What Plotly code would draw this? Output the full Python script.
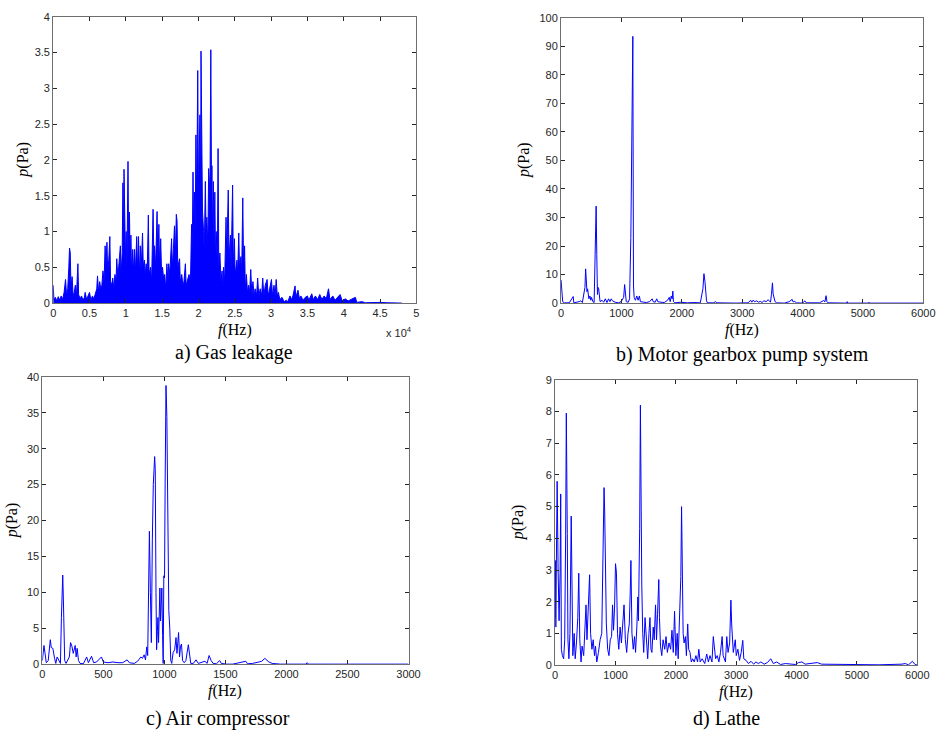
import plotly.graph_objects as go

# ---------------- spectra (frequency in Hz, amplitude in Pa) ----------------
# a) Gas leakage
gas_freq = [0, 100, 300, 500, 700, 900, 1100, 1300, 1500, 1700, 1850, 2000, 2150, 2250, 2350, 2450,
            2600, 2750, 2900, 3050, 3200, 3400, 3500, 3700, 3900, 4100, 4300, 4400, 4600, 4800, 5000,
            5200, 5400, 5600, 5800, 6000, 6100, 6250, 6400, 6550, 6700, 6850, 7000, 7150, 7250, 7400,
            7500, 7650, 7800, 7900, 8050, 8200, 8350, 8500, 8650, 8750, 8900, 9050, 9250, 9350, 9500,
            9600, 9700, 9750, 9850, 9950, 10050, 10150, 10300, 10400, 10500, 10600, 10700, 10800,
            10950, 11050, 11200, 11300, 11500, 11600, 11750, 11850, 12000, 12100, 12300, 12400, 12550,
            12650, 12800, 12950, 13100, 13200, 13400, 13550, 13750, 13850, 13950, 14100, 14300, 14400,
            14550, 14650, 14800, 14950, 15050, 15200, 15350, 15500, 15650, 15800, 15900, 16050, 16300,
            16400, 16550, 16700, 16800, 16950, 17050, 17150, 17400, 17500, 17700, 17850, 18000, 18200,
            18300, 18500, 18700, 18900, 19050, 19150, 19250, 19350, 19450, 19550, 19650, 19750, 19800,
            19900, 20000, 20100, 20200, 20300, 20350, 20450, 20550, 20700, 20800, 20950, 21050, 21150,
            21300, 21400, 21500, 21550, 21600, 21700, 21800, 21850, 21950, 22050, 22150, 22250, 22350,
            22450, 22600, 22700, 22800, 22950, 23100, 23250, 23350, 23450, 23600, 23800, 23900, 24100,
            24200, 24400, 24500, 24700, 24800, 24950, 25050, 25300, 25400, 25550, 25650, 25850, 25950,
            26100, 26200, 26350, 26450, 26600, 26750, 26900, 27050, 27200, 27350, 27500, 27650, 27800,
            28000, 28150, 28300, 28500, 28700, 28850, 29000, 29200, 29450, 29600, 29800, 30050, 30200,
            30400, 30550, 30700, 30850, 31000, 31200, 31500, 31800, 32100, 32300, 32600, 32800, 33000,
            33300, 33400, 33700, 33900, 34100, 34400, 34700, 35000, 35200, 35600, 35800, 36100, 36400,
            36700, 37000, 37300, 37600, 37900, 38100, 38500, 38800, 39200, 39500, 39800, 40200, 40600,
            41000, 41600, 41800, 42500, 43000, 44000, 45000, 46000, 47000, 48000]
gas_p = [0.25, 0.05, 0.08, 0.03, 0.09, 0.04, 0.1, 0.05, 0.15, 0.33, 0.1, 0.2, 0.5, 0.77, 0.7, 0.2,
         0.37, 0.1, 0.15, 0.25, 0.1, 0.55, 0.12, 0.06, 0.1, 0.04, 0.08, 0.15, 0.05, 0.1, 0.15,
         0.04, 0.1, 0.06, 0.12, 0.2, 0.38, 0.15, 0.3, 0.2, 0.25, 0.45, 0.3, 0.8, 0.5, 0.85,
         0.45, 0.6, 0.93, 0.3, 0.25, 0.35, 0.2, 0.4, 0.3, 0.62, 0.35, 0.5, 0.8, 0.4, 0.7,
         1.68, 0.8, 1.87, 1.3, 0.6, 1.0, 0.5, 1.98, 0.6, 1.27, 0.5, 0.95, 0.4,
         0.75, 0.45, 0.75, 0.4, 0.93, 0.45, 0.93, 0.4, 0.8, 0.45, 0.98, 0.5, 0.6,
         0.4, 0.55, 0.45, 1.23, 0.4, 0.5, 0.3, 1.31, 0.7, 0.8, 0.5, 1.28, 0.6,
         1.1, 0.5, 0.9, 0.3, 0.5, 0.35, 0.4, 0.2, 0.55, 0.3, 0.55, 0.4, 0.9,
         0.5, 0.75, 1.08, 0.6, 1.24, 1.15, 0.5, 0.62, 0.3, 0.4, 0.25, 0.3, 0.55,
         0.25, 0.35, 0.4, 0.3, 1.1, 0.7, 1.83, 0.9, 1.55, 1.0, 2.35, 1.3, 2.83,
         3.25, 1.5, 2.0, 2.63, 1.4, 3.52, 2.4, 1.3, 1.0, 0.7, 1.7, 0.9, 1.2,
         0.8, 1.88, 1.7, 1.0, 3.2, 3.54, 1.5, 1.92, 0.9, 1.7, 0.8, 1.55, 0.6,
         1.0, 0.5, 2.16, 0.5, 0.7, 0.3, 0.45, 0.2, 0.5, 0.3, 1.2, 0.6, 1.58,
         0.6, 0.95, 0.5, 1.65, 0.5, 0.9, 0.4, 0.6, 0.4, 0.98, 0.5, 0.65, 0.4,
         1.47, 0.6, 0.8, 0.2, 0.4, 0.15, 0.25, 0.15, 0.47, 0.1, 0.3, 0.1, 0.2,
         0.1, 0.35, 0.1, 0.2, 0.1, 0.35, 0.1, 0.25, 0.33, 0.1, 0.2, 0.33, 0.1,
         0.25, 0.1, 0.33, 0.1, 0.15, 0.05, 0.08, 0.02, 0.04, 0.02, 0.1, 0.05, 0.1,
         0.24, 0.08, 0.18, 0.06, 0.1, 0.04, 0.08, 0.1, 0.04, 0.13, 0.05, 0.1, 0.05,
         0.12, 0.05, 0.1, 0.06, 0.2, 0.05, 0.1, 0.04, 0.08, 0.12, 0.03, 0.06, 0.03,
         0.05, 0.08, 0.01, 0.02, 0.005, 0.01, 0.01, 0.005, 0.005, 0.0]

# b) Motor gearbox pump system
pump_freq = [0, 11, 27, 54, 136, 201, 212, 299, 326, 353, 396, 407, 418, 429, 440, 450, 461, 478, 494,
             505, 527, 548, 565, 581, 592, 603, 613, 624, 635, 646, 679, 706, 733, 760, 787, 809, 831,
             853, 896, 950, 994, 1037, 1053, 1064, 1080, 1113, 1135, 1156, 1178, 1189, 1200, 1211,
             1232, 1254, 1276, 1298, 1314, 1357, 1412, 1466, 1510, 1526, 1558, 1585, 1602, 1656, 1710,
             1765, 1792, 1808, 1825, 1841, 1852, 1862, 1884, 1982, 2090, 2199, 2307, 2350, 2367, 2384,
             2395, 2410, 2425, 2525, 2563, 2580, 2900, 3100, 3140, 3160, 3180, 3210, 3240, 3270, 3300,
             3330, 3360, 3400, 3430, 3470, 3485, 3502, 3513, 3530, 3545, 3570, 3700, 3780, 3828, 3845,
             3870, 3900, 4000, 4040, 4060, 4280, 4320, 4350, 4370, 4390, 4405, 4420, 4730, 4740, 4750,
             5090, 5100, 5110, 6000]
pump_p = [8.1, 5.0, 0.5, 0.1, 0.1, 2.3, 0.1, 0.5, 0.8, 0.2, 5.5, 12.0, 6.5, 4.0, 5.0, 2.5, 1.5, 2.5, 1.0,
          2.0, 0.5, 0.2, 17.2, 34.0, 17.0, 3.0, 5.5, 5.0, 3.5, 0.5, 1.0, 0.3, 1.5, 0.2, 1.5, 0.5, 1.5,
          0.8, 0.3, 0.1, 0.5, 2.0, 6.5, 2.0, 0.5, 0.3, 1.5, 23.0, 66.5, 93.5, 6.0, 2.0,
          1.0, 2.5, 1.0, 2.5, 0.5, 0.3, 0.2, 0.5, 1.5, 0.5, 0.3, 1.5, 0.5, 0.3, 0.2,
          1.0, 2.0, 0.5, 2.5, 1.5, 4.2, 0.5, 0.1, 0.3, 0.1, 0.2, 0.1, 5.0, 10.3, 7.5,
          3.0, 0.8, 0.1, 0.1, 0.5, 0.1, 0.0, 0.1, 1.0, 0.3, 1.0, 0.5, 0.8, 0.3, 0.6,
          0.2, 0.8, 0.5, 1.2, 0.3, 3.0, 7.1, 3.2, 1.5, 0.5, 0.1, 0.0, 0.5, 1.3, 0.4,
          0.6, 0.1, 0.0, 0.8, 0.1, 0.1, 0.6, 0.9, 0.4, 2.6, 0.5, 0.1, 0.0, 0.5, 0.0,
          0.0, 0.3, 0.0, 0.0]

# c) Air compressor
comp_freq = [0, 13, 22, 32, 48, 65, 73, 86, 100, 110, 121, 135, 148, 156, 167, 172, 178, 183, 194, 210,
             221, 231, 242, 253, 261, 269, 277, 285, 296, 309, 336, 363, 377, 403, 420, 444, 484, 500,
             538, 578, 619, 659, 694, 713, 753, 780, 794, 807, 820, 834, 845, 855, 863, 869, 877, 885,
             893, 901, 909, 920, 925, 931, 936, 942, 947, 952, 958, 963, 968, 974, 979, 985, 990, 995,
             1001, 1006, 1013, 1020, 1025, 1030, 1036, 1044, 1052, 1060, 1071, 1084, 1095, 1103, 1111,
             1116, 1124, 1132, 1140, 1149, 1162, 1176, 1196, 1205, 1216, 1237, 1259, 1278, 1305, 1332,
             1350, 1366, 1383, 1399, 1426, 1453, 1466, 1506, 1560, 1667, 1681, 1722, 1775, 1797, 1823,
             1840, 1856, 1883, 1910, 1950, 2160, 2170, 2180, 3000]
comp_p = [0.5, 2.6, 1.5, 0.2, 0.5, 3.4, 2.3, 2.2, 0.8, 0.1, 1.0, 0.5, 0.1, 6.5, 12.4, 9.2, 3.2, 0.5, 0.1, 0.6,
          1.0, 3.0, 2.5, 1.5, 2.0, 2.6, 1.0, 2.2, 0.5, 0.1, 0.05, 1.0, 0.2, 1.1, 0.2, 0.3, 1.0, 0.3,
          0.2, 0.3, 0.2, 0.2, 0.6, 0.2, 0.1, 0.4, 0.7, 1.0, 0.8, 1.3, 0.6, 2.4, 1.2, 13.8, 18.5, 10.0,
          3.0, 17.3, 25.0, 28.9, 27.1, 10.0, 2.0, 4.5, 6.5, 3.0, 8.0, 10.6, 6.0, 8.5, 10.6, 4.0, 0.1, 12.3,
          12.0, 25.2, 38.8, 34.5, 23.0, 8.0, 7.5, 5.0, 0.5, 0.1, 1.6, 2.0, 3.7, 1.5, 3.2,
          4.4, 1.0, 2.5, 2.8, 0.5, 0.2, 0.5, 2.7, 1.3, 0.1, 0.1, 0.6, 0.1, 0.3, 0.4,
          0.1, 1.2, 0.5, 0.1, 0.05, 0.5, 0.1, 0.0, 0.0, 0.4, 0.05, 0.1, 0.3, 0.4, 0.8,
          0.5, 0.3, 0.1, 0.05, 0.0, 0.0, 0.2, 0.0, 0.0]

# d) Lathe
lathe_freq = [0, 5, 11, 22, 33, 49, 65, 82, 92, 103, 120, 141, 158, 174, 185, 201, 212, 228, 245, 266,
              277, 293, 315, 332, 353, 375, 391, 408, 429, 446, 473, 489, 511, 527, 544, 560, 571, 587,
              609, 630, 652, 668, 690, 717, 745, 772, 793, 810, 821, 832, 848, 870, 891, 913, 935, 951,
              967, 984, 1000, 1016, 1033, 1054, 1076, 1098, 1120, 1141, 1163, 1185, 1207, 1228, 1245,
              1255, 1272, 1294, 1315, 1332, 1353, 1370, 1380, 1400, 1412, 1422, 1435, 1451, 1467, 1489,
              1511, 1533, 1554, 1571, 1587, 1603, 1625, 1641, 1663, 1679, 1696, 1717, 1728, 1745, 1766,
              1788, 1815, 1837, 1859, 1886, 1913, 1935, 1957, 1978, 2000, 2022, 2038, 2065, 2082, 2094,
              2103, 2120, 2136, 2158, 2174, 2196, 2212, 2234, 2255, 2277, 2304, 2332, 2359, 2380, 2402,
              2435, 2478, 2511, 2538, 2565, 2598, 2620, 2636, 2658, 2685, 2712, 2739, 2766, 2783, 2821,
              2843, 2864, 2891, 2911, 2924, 2951, 2984, 3000, 3027, 3054, 3082, 3108, 3125, 3163, 3201,
              3245, 3288, 3326, 3365, 3408, 3462, 3516, 3571, 3614, 3669, 3734, 3815, 3978, 4032, 4087,
              4141, 4277, 4342, 4413, 4657, 4983, 5364, 5745, 5799, 5853, 5918, 5962, 6000]
lathe_p = [1.5, 3.3, 1.2, 3.6, 5.8, 3.0, 1.4, 2.9, 5.4, 0.5, 0.3, 0.2, 0.8, 4.1, 7.95, 4.15, 0.8, 0.2, 1.0, 4.7,
           2.8, 0.3, 1.0, 0.2, 0.7, 1.5, 2.9, 0.8, 0.1, 0.6, 0.3, 1.0, 1.9, 0.8, 1.6, 2.3, 2.85, 1.0,
           0.5, 0.8, 0.3, 0.6, 0.1, 0.4, 0.8, 1.0, 2.95, 5.6, 4.8, 3.5, 1.3, 0.5, 0.3, 0.8, 0.9, 1.9,
           1.1, 1.8, 3.2, 2.9, 1.0, 0.5, 1.2, 0.7, 1.4, 1.9, 0.8, 0.4, 1.0, 1.3, 2.4,
           3.3, 1.0, 0.5, 0.9, 0.4, 1.2, 2.15, 1.4, 4.3, 8.2, 4.2, 2.5, 1.0, 0.4, 1.5,
           0.6, 0.2, 1.0, 1.5, 0.5, 0.4, 1.2, 0.8, 1.9, 0.8, 1.6, 2.7, 1.5, 0.6, 0.3,
           0.8, 0.5, 0.9, 0.4, 0.7, 0.5, 1.1, 0.4, 1.7, 0.3, 1.0, 0.2, 1.5, 2.8, 5.0,
           2.6, 1.0, 0.7, 0.9, 0.3, 1.3, 0.5, 0.4, 0.1, 0.2, 0.1, 0.3, 0.1, 0.5, 0.1,
           0.2, 0.05, 0.35, 0.1, 0.3, 0.1, 0.9, 0.6, 0.2, 0.3, 0.1, 0.4, 0.9, 0.3, 0.1,
           0.9, 0.4, 0.7, 2.05, 1.3, 0.4, 0.8, 0.3, 0.5, 0.15, 0.4, 0.78, 0.2, 0.15, 0.05,
           0.12, 0.03, 0.1, 0.05, 0.1, 0.03, 0.08, 0.2, 0.05, 0.1, 0.02, 0.05, 0.02, 0.08, 0.1,
           0.03, 0.06, 0.08, 0.03, 0.02, 0.01, 0.01, 0.03, 0.05, 0.01, 0.12, 0.02, 0.0]

# ---------------- axis settings ----------------
captions = ["a) Gas leakage", "b) Motor gearbox pump system", "c) Air compressor", "d) Lathe"]
gas_xticks = [0, 5000, 10000, 15000, 20000, 25000, 30000, 35000, 40000, 45000, 50000]
gas_xticktext = ["0", "0.5", "1", "1.5", "2", "2.5", "3", "3.5", "4", "4.5", "5"]

W, H = 951, 739
LINE = "#0000ff"
TICK_FONT = dict(family="Liberation Sans, Arial, sans-serif", size=11, color="#262626")
SERIF = "Liberation Serif, Times New Roman, serif"

# panel rectangles in pixels: (left, top, right, bottom)
boxes = [(51, 11, 420, 302), (567, 12, 935, 302), (40, 377, 412, 669), (561, 380, 929, 670)]


def xdom(b):
    return [b[0] / W, b[2] / W]


def ydom(b):
    return [1 - b[3] / H, 1 - b[1] / H]


fig = go.Figure()
series = [(gas_freq, gas_p), (pump_freq, pump_p), (comp_freq, comp_p), (lathe_freq, lathe_p)]
for i, (fx, py) in enumerate(series):
    sfx = "" if i == 0 else str(i + 1)
    kw = dict(fill="tozeroy", fillcolor=LINE) if i == 0 else {}
    fig.add_trace(go.Scatter(x=fx, y=py, mode="lines", line=dict(color=LINE, width=1),
                             xaxis="x" + sfx, yaxis="y" + sfx, showlegend=False, **kw))

axis_common = dict(showgrid=False, zeroline=False, showline=True, linecolor="#6e6e6e", linewidth=1,
                   mirror="ticks", ticks="inside", ticklen=4, tickcolor="#262626",
                   tickfont=TICK_FONT, fixedrange=True)

x_ranges = [[0, 50000], [0, 6000], [0, 3000], [0, 6000]]
x_dticks = [5000, 1000, 500, 1000]
y_ranges = [[0, 4], [0, 100], [0, 40], [0, 9]]
y_dticks = [0.5, 10, 5, 1]

layout = dict(width=W, height=H, margin=dict(l=0, r=0, t=0, b=0),
              paper_bgcolor="white", plot_bgcolor="white", showlegend=False)
for i, b in enumerate(boxes):
    sfx = "" if i == 0 else str(i + 1)
    xa = dict(axis_common, domain=xdom(b), range=x_ranges[i], anchor="y" + sfx,
              tickmode="linear", tick0=0, dtick=x_dticks[i])
    if i == 0:
        xa.update(tickmode="array", tickvals=gas_xticks, ticktext=gas_xticktext)
    ya = dict(axis_common, domain=ydom(b), range=y_ranges[i], anchor="x" + sfx,
              tickmode="linear", tick0=0, dtick=y_dticks[i])
    layout["xaxis" + sfx] = xa
    layout["yaxis" + sfx] = ya
fig.update_layout(**layout)

# axis titles and captions
ann = []
cap_pos = [(235, 352), (751, 354), (218, 724), (735, 724)]
for i, b in enumerate(boxes):
    cx = (b[0] + b[2]) / 2
    ann.append(dict(x=cx / W, y=1 - (b[3] + 27) / H, xref="paper", yref="paper",
                    text="<i>f</i>(Hz)", showarrow=False, xanchor="center", yanchor="middle",
                    font=dict(family=SERIF, size=16, color="black")))
    ylab_x = b[0] - 31 if i in (0, 2) else b[0] - 37
    ann.append(dict(x=ylab_x / W, y=1 - (b[1] + b[3]) / 2 / H, xref="paper", yref="paper",
                    text="<i>p</i>(Pa)", showarrow=False, textangle=-90,
                    xanchor="center", yanchor="middle",
                    font=dict(family=SERIF, size=16, color="black")))
    ann.append(dict(x=cap_pos[i][0] / W, y=1 - cap_pos[i][1] / H, xref="paper", yref="paper",
                    text=captions[i], showarrow=False, xanchor="center", yanchor="middle",
                    font=dict(family=SERIF, size=20, color="black")))
ann.append(dict(x=418 / W, y=1 - 331 / H, xref="paper", yref="paper",
                text="x 10<sup>4</sup>", showarrow=False, xanchor="right", yanchor="middle",
                font=dict(family="Liberation Sans, Arial, sans-serif", size=11, color="#262626")))
fig.update_layout(annotations=ann)

fig.write_html("out.html")
